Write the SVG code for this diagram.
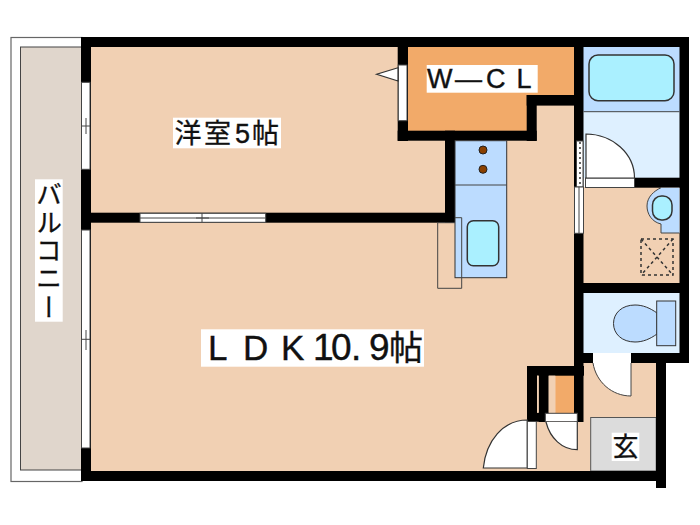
<svg xmlns="http://www.w3.org/2000/svg" width="700" height="525" viewBox="0 0 700 525">
<style>
.wall{fill:#000}
.room{fill:#f1d0b3}
.closet{fill:#f2aa69}
.blue{fill:#bcdcff;stroke:#333;stroke-width:1}
.pale{fill:#def0ff}
.cyan{fill:#aaf0ff;stroke:#333;stroke-width:1.5}
.door{fill:#fff;stroke:#333;stroke-width:1.2}
.win{fill:#fff;stroke:#444;stroke-width:1}
.thin{fill:none;stroke:#444;stroke-width:1}
.dash{fill:none;stroke:#333;stroke-width:1.5;stroke-dasharray:3 3}
.lab{fill:#fff}
.sans{font-family:"Liberation Sans","Noto Sans CJK JP",sans-serif;fill:#111;stroke:#111;stroke-width:.4}
.cjk{font-family:"Noto Sans CJK JP","Liberation Sans",sans-serif;fill:#111;stroke:#111;stroke-width:.3}
</style>
<rect width="700" height="525" fill="#fff"/>
<g id="balcony">
<rect x="11" y="37.500" width="71" height="444" fill="#fff" stroke="#666" stroke-width="1.200"/>
<rect x="20.500" y="47" width="61" height="423" fill="#e0d6cc" stroke="#444" stroke-width="1"/>
</g>
<g id="floors">
<rect class="room" x="90" y="46" width="485" height="426"/>
<rect class="room" x="583" y="187" width="97" height="97"/>
<rect class="room" x="536" y="362" width="121" height="110"/>
<rect class="closet" x="407" y="46" width="167" height="50"/>
<rect class="closet" x="407" y="95" width="120" height="36"/>
<rect fill="#bcdcff" x="583" y="46" width="97" height="66"/>
<rect class="pale" x="583" y="112" width="97" height="66"/>
<rect class="pale" x="583" y="293" width="97" height="60"/>
<rect class="closet" x="555.300" y="375" width="19" height="38"/>
<rect x="590.700" y="417.500" width="65.500" height="53.500" fill="#dcdcdc" stroke="#555" stroke-width="1"/>
</g>
<g id="walls" class="wall">
<rect x="81" y="37" width="608" height="10"/>
<rect x="81" y="37" width="10" height="444"/>
<rect x="81" y="471" width="585" height="10"/>
<rect x="679.500" y="37" width="9.500" height="326"/>
<rect x="656" y="353" width="10" height="135"/>
<rect x="574" y="353" width="115" height="10"/>
<rect x="635" y="177.700" width="54" height="10"/>
<rect x="574" y="283" width="115" height="10"/>
<rect x="574" y="37" width="9.500" height="385"/>
<rect x="81" y="212.700" width="374" height="10"/>
<rect x="445" y="130.700" width="10" height="92"/>
<rect x="397.700" y="37" width="10.300" height="104"/>
<rect x="397.700" y="130.700" width="139" height="10"/>
<rect x="526.700" y="95" width="10" height="46"/>
<rect x="526.700" y="95" width="48" height="10.600"/>
<rect x="527" y="366" width="57" height="9.700"/>
<rect x="527" y="366" width="10" height="56"/>
<rect x="538.700" y="366" width="10" height="56"/>
<rect x="527" y="412.700" width="19" height="9"/>
</g>
<g id="shaft">
<rect x="537" y="375.700" width="1.700" height="37" fill="#f1d0b3"/>
<rect x="548.700" y="375.700" width="6.600" height="37" fill="#f1d0b3"/>
</g>
<g id="kitchen">
<rect class="blue" x="455" y="140.700" width="51.700" height="137"/>
<path class="thin" d="M455 185H506.700"/>
<circle cx="483" cy="150" r="4" fill="#8a4000" stroke="#222"/>
<circle cx="483" cy="169.300" r="4" fill="#8a4000" stroke="#222"/>
<rect class="cyan" x="467.300" y="220.700" width="31.400" height="45" rx="6"/>
<path class="thin" d="M455 222.700H437.700V288.300H461.700V217.700H455"/>
</g>
<g id="bath">
<rect class="cyan" x="589" y="55" width="85" height="45.700" rx="9"/>
<path class="thin" d="M583.500 111.700H679.500"/>
</g>
<g id="washroom">
<path fill="#bcdcff" d="M661 187.700H679.500V233H661V224C652 222 647 214 647 206C647 197 654 191 661 187.700Z"/>
<path class="thin" d="M661 187.700C654 191 647 197 647 206C647 214 652 222 661 224V233H679.500"/>
<rect class="cyan" x="652.500" y="196" width="19.500" height="24" rx="9"/>
<rect class="dash" x="641" y="239" width="32" height="36"/>
<path class="dash" d="M641 239L673 275M673 239L641 275"/>
</g>
<g id="toilet">
<path class="blue" d="M657 313C650 308 643 305 635 305C622 305 613.500 313 613.500 323.500C613.500 334 622 342 635 342C643 342 650 339 657 334Z"/>
<rect class="blue" x="656.700" y="301" width="19" height="44.700"/>
</g>
<g id="doors">
<rect class="win" x="585.500" y="178" width="49" height="9.500"/>
<path class="door" d="M586 134A49 44 0 0 1 634.500 178H586Z"/>
<rect x="593" y="353" width="38" height="10" fill="#fff"/>
<path fill="#fff" d="M593 363H631V396C612 396 597 382 593 363Z"/>
<path class="thin" d="M593 363C596 382 612 396 631 396V363"/>
<rect class="win" x="545.300" y="413.300" width="32" height="8.400"/>
<path class="door" d="M546 422C550 438 562 449.700 577.300 449.700V422"/>
<path class="door" d="M483.300 468C486 441 503 420 527.300 420V468Z"/>
<rect class="win" x="527.300" y="421.500" width="9" height="47"/>
</g>
<g id="windows">
<rect class="win" x="81.500" y="82.300" width="8.500" height="87"/>
<path class="thin" d="M81.500 126H90M86 118V134"/>
<rect class="win" x="81.500" y="230" width="8.500" height="218"/>
<path class="thin" d="M81.500 339.300H90M86 330V350"/>
<rect class="win" x="140" y="213.300" width="125.700" height="9"/>
<path class="thin" d="M140 218H265.700M202 213V222M196 218H209"/>
<rect class="win" x="398.300" y="65" width="8.700" height="55.700"/>
<path d="M398 67.700L376.700 74.300L398 81Z" class="door"/>
<rect class="win" x="576.500" y="141" width="6.500" height="46"/>
<path d="M580 142V186" stroke="#333" stroke-width="1.500" stroke-dasharray="2 3" fill="none"/>
<rect class="win" x="574.500" y="187" width="9" height="46.300"/>
<path class="thin" d="M579 187V233"/>
</g>
<g id="label-western">
<rect class="lab" x="173" y="117.700" width="108" height="30.600"/>
<text class="cjk" font-size="27" y="143" x="174.500 204">洋室</text>
<text class="sans" font-size="27" y="143" x="235">5</text>
<text class="cjk" font-size="27" y="143" x="252">帖</text>
</g>
<g id="label-wcl">
<rect class="lab" x="426.700" y="65" width="111" height="27.700"/>
<text class="sans" font-size="27" y="88" x="427 455 486 516.500">W—CL</text>
</g>
<g id="label-ldk">
<rect class="lab" x="201" y="329.300" width="223" height="37.400"/>
<text class="sans" font-size="35" y="359.500" x="208 243 281">LDK</text>
<text class="sans" font-size="37" y="360" x="313 331 351 369">10.9</text>
<text class="cjk" font-size="34" y="360" x="389">帖</text>
</g>
<g id="label-balcony">
<rect class="lab" x="35" y="179.300" width="27.700" height="142.400"/>
<text class="cjk" font-size="26" x="49" y="181" letter-spacing="2.200" style="writing-mode:vertical-rl">バルコニー</text>
</g>
<g id="label-entry">
<rect class="lab" x="611.700" y="432.700" width="27.600" height="28.300"/>
<text class="cjk" font-size="26" x="612.500" y="456">玄</text>
</g>
</svg>
